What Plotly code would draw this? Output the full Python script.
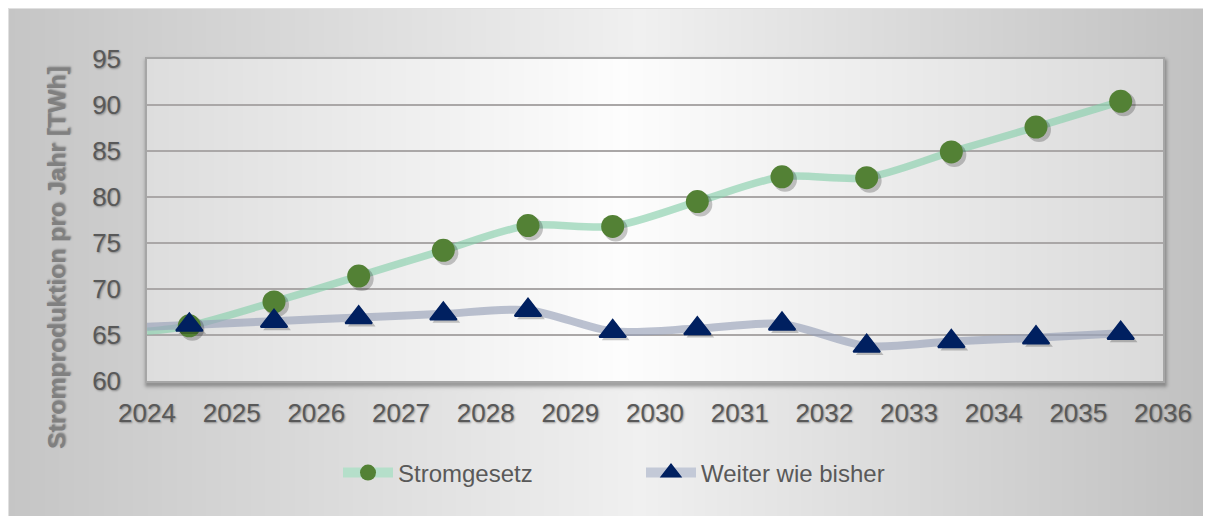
import base64
import struct
import zlib

import numpy as np
import plotly.graph_objects as go

# ---------------- data ----------------
years = [2024.5, 2025.5, 2026.5, 2027.5, 2028.5, 2029.5,
         2030.5, 2031.5, 2032.5, 2033.5, 2034.5, 2035.5]
stromgesetz = [66.0, 68.6, 71.4, 74.2, 76.9, 76.8, 79.5, 82.2, 82.1, 84.9, 87.6, 90.4]
weiter_wie_bisher = [66.1, 66.5, 66.9, 67.3, 67.7, 65.4, 65.7, 66.2, 63.8, 64.3, 64.7, 65.2]
# the smoothed lines continue to the left edge of the axis (start of 2024)
lead_year = [2024.0]
stromgesetz_lead = [65.4]
weiter_lead = [65.9]

x_ticks = [2024, 2025, 2026, 2027, 2028, 2029, 2030, 2031, 2032, 2033, 2034, 2035, 2036]
y_ticks = [60, 65, 70, 75, 80, 85, 90, 95]
series_names = ["Stromgesetz", "Weiter wie bisher"]
y_title = "Stromproduktion pro Jahr [TWh]"

# ---------------- layout geometry ----------------
W, H = 1211, 516
ML, MT = 139, 51
PW, PH = 1016, 322
MR, MB = W - ML - PW, H - MT - PH
X_RANGE = [x_ticks[0], x_ticks[-1]]
Y_RANGE = [y_ticks[0], y_ticks[-1]]

FONT = "Arial, 'Liberation Sans', sans-serif"
TEXT_SHADOW = "1px 1px 2px rgba(0,0,0,0.35)"


# ---------------- background picture (gradients + plot-area shadow) ----------------
def make_png(arr):
    h, w, _ = arr.shape
    raw = b"".join(b"\x00" + arr[r].tobytes() for r in range(h))

    def chunk(tag, data):
        c = struct.pack(">I", len(data)) + tag + data
        return c + struct.pack(">I", zlib.crc32(tag + data) & 0xFFFFFFFF)

    return (b"\x89PNG\r\n\x1a\n"
            + chunk(b"IHDR", struct.pack(">IIBBBBB", w, h, 8, 2, 0, 0, 0))
            + chunk(b"IDAT", zlib.compress(raw, 9))
            + chunk(b"IEND", b""))


xs = np.arange(W) + 0.5
ys = np.arange(H) + 0.5
outer = np.interp(xs, [0, 632, W - 8], [197, 240, 192])
inner = np.interp(xs, [ML, 612, ML + PW], [221, 253, 218])
img = np.tile(outer[None, :], (H, 1)).astype(float)

# soft drop shadow of the plot area
sx0, sx1, sy0, sy1 = ML + 1, ML + PW + 1, MT + 3, MT + PH + 3
dxd = np.maximum(np.maximum(sx0 - xs, xs - sx1), 0)[None, :]
dyd = np.maximum(np.maximum(sy0 - ys, ys - sy1), 0)[:, None]
dist = np.sqrt(dxd ** 2 + dyd ** 2)
alpha = 0.5 * np.exp(-(dist / 3.5) ** 2)
img = img * (1 - alpha) + 85 * alpha

img[MT:MT + PH, ML:ML + PW] = inner[None, ML:ML + PW]
img[0, :] = 224
img[:, 0] = 224
img8 = np.clip(np.round(img), 0, 255).astype(np.uint8)
rgb = np.stack([img8, img8, img8], axis=2)
bg_uri = "data:image/png;base64," + base64.b64encode(make_png(rgb)).decode()

# ---------------- traces ----------------
GREEN_LINE = "rgba(137,207,172,0.65)"
BLUE_LINE = "rgba(152,162,185,0.65)"
GREEN_MARK = "#538135"
BLUE_MARK = "#002060"

# marker shadow offset: 3 px right, 3 px down, converted through the axis scales
sh_x = 3 * (X_RANGE[1] - X_RANGE[0]) / PW
sh_y = 3 * (Y_RANGE[1] - Y_RANGE[0]) / PH

fig = go.Figure()

fig.add_trace(go.Scatter(
    x=lead_year + years, y=stromgesetz_lead + stromgesetz, mode="lines",
    line=dict(color=GREEN_LINE, width=7.5, shape="spline", smoothing=0.8),
    showlegend=False, hoverinfo="skip"))
fig.add_trace(go.Scatter(
    x=lead_year + years, y=weiter_lead + weiter_wie_bisher, mode="lines",
    line=dict(color=BLUE_LINE, width=8, shape="spline", smoothing=0.8),
    showlegend=False, hoverinfo="skip"))

fig.add_trace(go.Scatter(
    x=[v + sh_x for v in years], y=[v - sh_y for v in stromgesetz], mode="markers",
    marker=dict(symbol="circle", size=24, color="rgba(0,0,0,0.22)"),
    showlegend=False, hoverinfo="skip"))
fig.add_trace(go.Scatter(
    x=years, y=stromgesetz, mode="markers", name=series_names[0],
    marker=dict(symbol="circle", size=23, color=GREEN_MARK),
    showlegend=False))

fig.add_trace(go.Scatter(
    x=[v + sh_x for v in years], y=[v - sh_y for v in weiter_wie_bisher], mode="markers",
    marker=dict(symbol="triangle-up", size=24, color="rgba(0,0,0,0.22)",
                line=dict(width=2, color="rgba(0,0,0,0)")),
    showlegend=False, hoverinfo="skip"))
fig.add_trace(go.Scatter(
    x=years, y=weiter_wie_bisher, mode="markers", name=series_names[1],
    marker=dict(symbol="triangle-up", size=23, color=BLUE_MARK,
                line=dict(width=2, color=BLUE_MARK)),
    showlegend=False))

# legend entries
fig.add_trace(go.Scatter(
    x=[None], y=[None], mode="lines+markers", name=series_names[0],
    line=dict(color="#b5dfca", width=10),
    marker=dict(symbol="circle", size=16, color=GREEN_MARK)))
fig.add_trace(go.Scatter(
    x=[None], y=[None], mode="lines+markers", name=series_names[1],
    line=dict(color="#c3c9d7", width=10),
    marker=dict(symbol="triangle-up", size=16, color=BLUE_MARK,
                line=dict(width=2, color=BLUE_MARK))))

axis_font = dict(family=FONT, size=26, color="#595959", shadow=TEXT_SHADOW)

fig.update_layout(
    width=W, height=H,
    margin=dict(l=ML, r=MR, t=MT, b=MB, autoexpand=False),
    paper_bgcolor="#c3c3c3",
    plot_bgcolor="rgba(0,0,0,0)",
    images=[dict(source=bg_uri, xref="paper", yref="paper",
                 x=-ML / PW, y=1 + MT / PH, sizex=W / PW, sizey=H / PH,
                 xanchor="left", yanchor="top", sizing="stretch", layer="below")],
    xaxis=dict(range=X_RANGE, tickvals=x_ticks, ticktext=[str(t) for t in x_ticks],
               showgrid=False, zeroline=False, showline=True, mirror=True,
               linecolor="#a6a6a6", linewidth=1.5, ticks="",
               tickfont=axis_font, ticklabelstandoff=8, fixedrange=True),
    yaxis=dict(range=Y_RANGE, tickvals=y_ticks, ticktext=[str(t) for t in y_ticks],
               showgrid=True, gridcolor="#aaa7a7", gridwidth=1.5, zeroline=False,
               showline=True, mirror=True, linecolor="#a6a6a6", linewidth=1.5,
               ticks="", tickfont=axis_font, ticklabelstandoff=19, fixedrange=True),
    legend=dict(orientation="h", x=(330 - ML) / PW, y=(PH - (465 - MT)) / PH,
                xanchor="left", yanchor="middle",
                font=dict(family=FONT, size=24, color="#595959"),
                itemwidth=50, entrywidth=238, entrywidthmode="pixels",
                bgcolor="rgba(0,0,0,0)", traceorder="normal"),
    annotations=[dict(text="<b>" + y_title + "</b>", xref="paper", yref="paper",
                      x=(48 - ML) / PW, y=(PH - (250 - MT)) / PH,
                      xanchor="center", yanchor="middle", textangle=-90,
                      showarrow=False,
                      font=dict(family=FONT, size=24.7, color="#808080",
                                shadow=TEXT_SHADOW))],
    showlegend=True,
)

fig.write_html("out.html")
